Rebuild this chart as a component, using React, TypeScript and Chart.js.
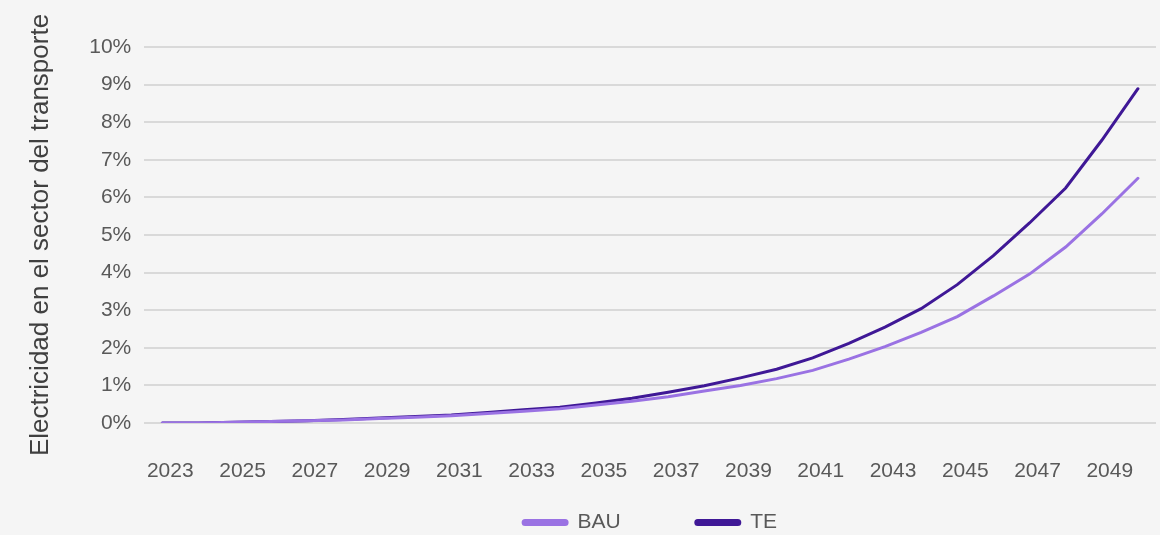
import React, { useEffect, useRef } from "react";
import { Chart, registerables } from "chart.js";

Chart.register(...registerables);

const years = [
  "2023", "2024", "2025", "2026", "2027", "2028", "2029", "2030", "2031", "2032",
  "2033", "2034", "2035", "2036", "2037", "2038", "2039", "2040", "2041", "2042",
  "2043", "2044", "2045", "2046", "2047", "2048", "2049", "2050",
];
const bauValues = [
  0, 0, 0.02, 0.04, 0.06, 0.08, 0.12, 0.15, 0.19, 0.25,
  0.31, 0.38, 0.48, 0.58, 0.7, 0.85, 1.0, 1.18, 1.4, 1.7,
  2.03, 2.41, 2.83, 3.38, 3.96, 4.68, 5.56, 6.51,
];
const teValues = [
  0, 0, 0.02, 0.04, 0.06, 0.09, 0.13, 0.17, 0.21, 0.28,
  0.35, 0.42, 0.53, 0.66, 0.82, 0.99, 1.2, 1.43, 1.73, 2.12,
  2.55, 3.04, 3.68, 4.45, 5.32, 6.25, 7.52, 8.89,
];
const seriesNames = ["BAU", "TE"];
const yTitle = "Electricidad en el sector del transporte";

export default function App() {
  const ref = useRef<HTMLCanvasElement | null>(null);
  useEffect(() => {
    if (!ref.current) return;
    const font = "'Liberation Sans', Arial, Helvetica, sans-serif";
    const chart = new Chart(ref.current, {
      type: "line",
      data: {
        labels: years,
        datasets: [
          {
            label: seriesNames[0],
            data: bauValues,
            borderColor: "#9a72e3",
            backgroundColor: "#9a72e3",
            borderWidth: 3,
            pointRadius: 0,
            tension: 0,
            borderCapStyle: "round",
          },
          {
            label: seriesNames[1],
            data: teValues,
            borderColor: "#3f1896",
            backgroundColor: "#3f1896",
            borderWidth: 3,
            pointRadius: 0,
            tension: 0,
            borderCapStyle: "round",
          },
        ],
      },
      options: {
        animation: false,
        responsive: false,
        maintainAspectRatio: false,
        layout: { padding: { top: 47, right: 4, bottom: -8, left: 25 } },
        plugins: {
          legend: {
            position: "bottom",
            fullSize: false,
            labels: {
              boxWidth: 44,
              boxHeight: 4,
              useBorderRadius: true,
              borderRadius: 2,
              padding: 75,
              color: "#595959",
              font: { family: font, size: 21 },
            },
          },
          tooltip: { enabled: false },
        },
        scales: {
          x: {
            offset: true,
            grid: { display: false, drawTicks: false },
            border: { display: false },
            afterFit: (s: any) => {
              s.paddingLeft = 0;
              s.paddingRight = 0;
              s.height = 14;
            },
            ticks: {
              color: "#595959",
              font: { family: font, size: 21 },
              mirror: true,
              padding: -61,
              labelOffset: 8,
              maxRotation: 0,
              autoSkip: false,
              callback: (v: any, i: number) => (i % 2 === 0 ? years[i] : ""),
            },
          },
          y: {
            min: 0,
            max: 10,
            grid: { color: "#d9d9d9", lineWidth: 2, drawTicks: false },
            border: { display: false },
            ticks: {
              stepSize: 1,
              color: "#595959",
              font: { family: font, size: 21 },
              padding: 13,
              callback: (v: any) => v + "%",
            },
            title: {
              display: true,
              text: yTitle,
              color: "#404040",
              font: { family: font, size: 26 },
              padding: { top: 0, bottom: 20 },
            },
          },
        },
      },
    });
    return () => chart.destroy();
  }, []);
  return (
    <div style={{ position: "absolute", left: 0, top: 0, width: 1160, height: 535, background: "#f5f5f5" }}>
      <canvas ref={ref} width={1160} height={535} style={{ display: "block" }} />
    </div>
  );
}
